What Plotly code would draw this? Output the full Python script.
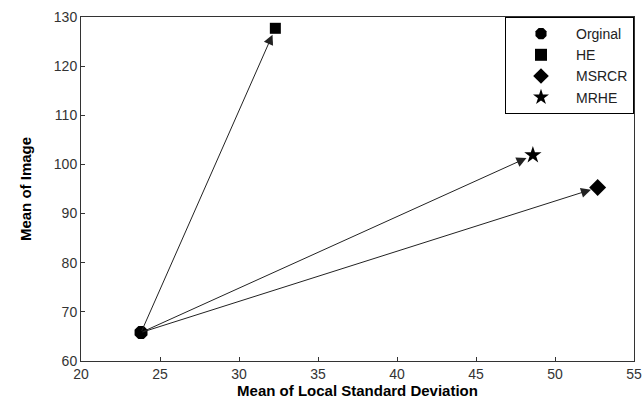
import plotly.graph_objects as go

methods = ["Orginal", "HE", "MSRCR", "MRHE"]
mean_lsd = [23.8, 32.3, 52.7, 48.6]
mean_img = [65.8, 127.7, 95.3, 101.9]
symbols = ["octagon", "square", "diamond", "star"]
sizes = [14, 11, 13, 13]

x_ticks = [20, 25, 30, 35, 40, 45, 50, 55]
y_ticks = [60, 70, 80, 90, 100, 110, 120, 130]

fig = go.Figure()
for m, xv, yv, s, sz in zip(methods, mean_lsd, mean_img, symbols, sizes):
    fig.add_trace(go.Scatter(
        x=[xv], y=[yv], mode="markers", name=m,
        marker=dict(symbol=s, size=sz, color="black", line=dict(width=0)),
    ))

# arrows from original to each enhanced result
for xv, yv in zip(mean_lsd[1:], mean_img[1:]):
    fig.add_annotation(
        x=xv, y=yv, ax=mean_lsd[0], ay=mean_img[0],
        xref="x", yref="y", axref="x", ayref="y",
        showarrow=True, arrowhead=2, arrowsize=2, arrowwidth=1,
        arrowcolor="#222", standoff=7, text="",
    )

axis_common = dict(
    showgrid=False, zeroline=False, showline=True, linecolor="#333",
    linewidth=1, mirror=True, ticks="inside", ticklen=4, tickcolor="#333",
    automargin=False,
    tickfont=dict(family="Liberation Sans, Arial", size=14, color="#333"),
)

fig.update_layout(
    width=644, height=400,
    margin=dict(l=81, r=10, t=17, b=39, autoexpand=False),
    paper_bgcolor="white", plot_bgcolor="white",
    xaxis=dict(range=[20, 55], tickvals=x_ticks,
               title=dict(text="<b>Mean of Local Standard Deviation</b>",
                          font=dict(family="Liberation Sans, Arial", size=15, color="black"),
                          standoff=0),
               **axis_common),
    yaxis=dict(range=[60, 130], tickvals=y_ticks,
               title=dict(text="<b>Mean of Image</b>",
                          font=dict(family="Liberation Sans Narrow, Liberation Sans, Arial", size=15, color="black"),
                          standoff=18),
               **axis_common),
    legend=dict(x=1, y=1, xanchor="right", yanchor="top",
                bordercolor="black", borderwidth=1, bgcolor="white",
                font=dict(family="Liberation Sans, Arial", size=14, color="#222"),
                tracegroupgap=0, itemsizing="constant", itemwidth=60),
    showlegend=True,
)

fig.write_html(
    "out.html",
    config={"displayModeBar": False},
    post_script="document.body.style.margin='0';document.body.style.overflow='hidden';",
)
